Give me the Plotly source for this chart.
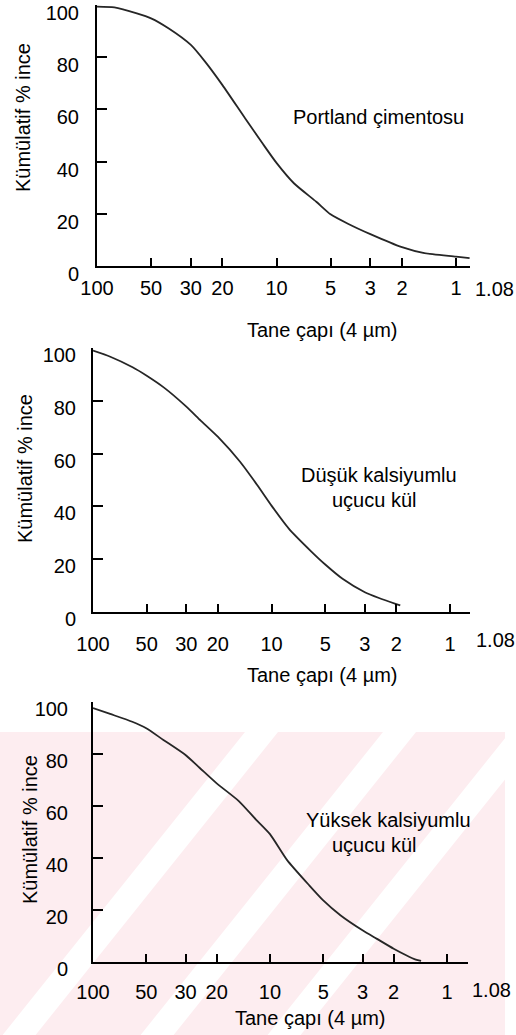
import plotly.graph_objects as go

W, H = 516, 1035

# ---------------- data ----------------
x_tick_values = [100, 50, 30, 20, 10, 5, 3, 2, 1]
x_tick_labels = ["100", "50", "30", "20", "10", "5", "3", "2", "1"]
x_end_label = "1.08"
y_tick_values = [0, 20, 40, 60, 80, 100]
y_tick_labels = ["0", "20", "40", "60", "80", "100"]

y_title = "Kümülatif % ince"
x_title = "Tane çapı (4 µm)"

portland_d = [100, 80, 60, 50, 40, 30, 25, 20, 15, 12, 10, 8, 6, 5, 4, 3, 2, 1.5, 1, 0.84]
portland_y = [99.4, 99.1, 96.8, 94.9, 91.1, 84.7, 78.3, 69.3, 56.7, 47.1, 39.5, 31.7, 24.6, 19.8, 16.2, 12.2, 7.2, 4.9, 3.6, 3.0]

low_ca_d = [100, 80, 60, 50, 40, 30, 25, 20, 15, 12, 10, 8, 6, 5, 4, 3, 2.5, 2, 1.9]
low_ca_y = [99.0, 96.7, 92.7, 89.5, 85.0, 77.8, 72.6, 66.4, 56.9, 48.0, 40.3, 31.6, 23.0, 18.0, 12.6, 7.5, 5.3, 3.0, 2.5]

high_ca_d = [100, 80, 60, 50, 40, 30, 25, 20, 15, 12, 10, 8, 6, 5, 4, 3, 2.5, 2, 1.7, 1.5, 1.4]
high_ca_y = [97.7, 95.4, 92.4, 89.9, 85.4, 79.6, 74.7, 68.7, 61.9, 54.8, 49.2, 39.2, 29.5, 23.7, 18.0, 12.2, 9.0, 5.1, 2.6, 0.9, 0.4]

portland_label = "Portland çimentosu"
low_label = ["Düşük kalsiyumlu", "uçucu kül"]
high_label = ["Yüksek kalsiyumlu", "uçucu kül"]

# ---------------- layout helpers (pixel -> paper) ----------------
def fx(p):
    return p / W

def fy(p):
    return 1 - p / H

FONT = "Arial, Liberation Sans, sans-serif"
FS = 20

panels = [
    dict(xl=97, xr=470, yt=5, yb=266, xend=-0.078, ystand=12, yshift=8, xstand=3),
    dict(xl=93, xr=470, yt=348, yb=612, xend=-0.112, ystand=11, yshift=7, xstand=13),
    dict(xl=93, xr=468, yt=702, yb=962, xend=-0.119, ystand=19, yshift=7, xstand=11),
]
series = [(portland_d, portland_y), (low_ca_d, low_ca_y), (high_ca_d, high_ca_y)]

fig = go.Figure()
layout = dict(
    width=W, height=H,
    margin=dict(l=0, r=0, t=0, b=0, pad=0, autoexpand=False),
    paper_bgcolor="white",
    plot_bgcolor="rgba(0,0,0,0)",
    showlegend=False,
    font=dict(family=FONT, size=FS, color="black"),
)

for i, (p, (d, v)) in enumerate(zip(panels, series)):
    n = "" if i == 0 else str(i + 1)
    fig.add_trace(go.Scatter(
        x=d, y=v, mode="lines",
        line=dict(color="#262626", width=1.8, shape="spline", smoothing=0.6),
        xaxis="x" + n, yaxis="y" + n, hoverinfo="skip",
    ))
    layout["xaxis" + n] = dict(
        type="log", range=[2, p["xend"]],
        domain=[fx(p["xl"]), fx(p["xr"])],
        anchor="y" + n, automargin=False,
        showline=True, linecolor="black", linewidth=2,
        ticks="inside", ticklen=8, tickwidth=1.5, tickcolor="black",
        tickvals=x_tick_values, ticktext=x_tick_labels,
        tickfont=dict(family=FONT, size=FS, color="black"),
        ticklabelstandoff=p["xstand"], ticklabeloverflow="allow",
        showgrid=False, zeroline=False, fixedrange=True,
    )
    layout["yaxis" + n] = dict(
        range=[0, 100],
        domain=[fy(p["yb"]), fy(p["yt"])],
        anchor="x" + n, automargin=False,
        showline=True, linecolor="black", linewidth=2,
        ticks="inside", ticklen=10, tickwidth=1.5, tickcolor="black",
        tickvals=y_tick_values, ticktext=y_tick_labels,
        tickfont=dict(family=FONT, size=FS, color="black"),
        ticklabelstandoff=p["ystand"], ticklabelshift=p["yshift"],
        ticklabeloverflow="allow",
        showgrid=False, zeroline=False, fixedrange=True,
    )

annotations = []
def ann(text, x, y, angle=0, size=FS):
    annotations.append(dict(
        text=text, x=fx(x), y=fy(y), xref="paper", yref="paper",
        xanchor="center", yanchor="middle", showarrow=False, textangle=angle,
        font=dict(family=FONT, size=size, color="black"),
    ))

# axis titles
for (tx, ty) in [(23, 118), (25, 469), (30, 830)]:
    ann(y_title, tx, ty, angle=-90)
for (tx, ty) in [(322, 330), (322, 675), (310, 1018)]:
    ann(x_title, tx, ty)
# end labels of x axis
for (tx, ty) in [(494, 289), (495, 640), (491, 990)]:
    ann(x_end_label, tx, ty)
# curve labels
ann(portland_label, 378, 117)
ann(low_label[0], 379, 475)
ann(low_label[1], 374, 500)
ann(high_label[0], 388, 820)
ann(high_label[1], 374, 845)
layout["annotations"] = annotations

# faint pink diagonal watermark behind the bottom panel
PINK = "#fdedf0"
shapes = [dict(type="rect", xref="paper", yref="paper", layer="below",
               x0=fx(0), x1=fx(505), y0=fy(1035), y1=fy(732),
               fillcolor=PINK, line=dict(width=0))]
top, bot = 732, 1035
for xt in [245, 383, 510]:
    xb = xt - 0.8 * (bot - top)
    w = 33
    path = "M {} {} L {} {} L {} {} L {} {} Z".format(
        fx(xt), fy(top), fx(xt + w), fy(top), fx(xb + w), fy(bot), fx(xb), fy(bot))
    shapes.append(dict(type="path", xref="paper", yref="paper", layer="below",
                       path=path, fillcolor="white", line=dict(width=0)))
layout["shapes"] = shapes

fig.update_layout(**layout)
fig.write_html("out.html")
